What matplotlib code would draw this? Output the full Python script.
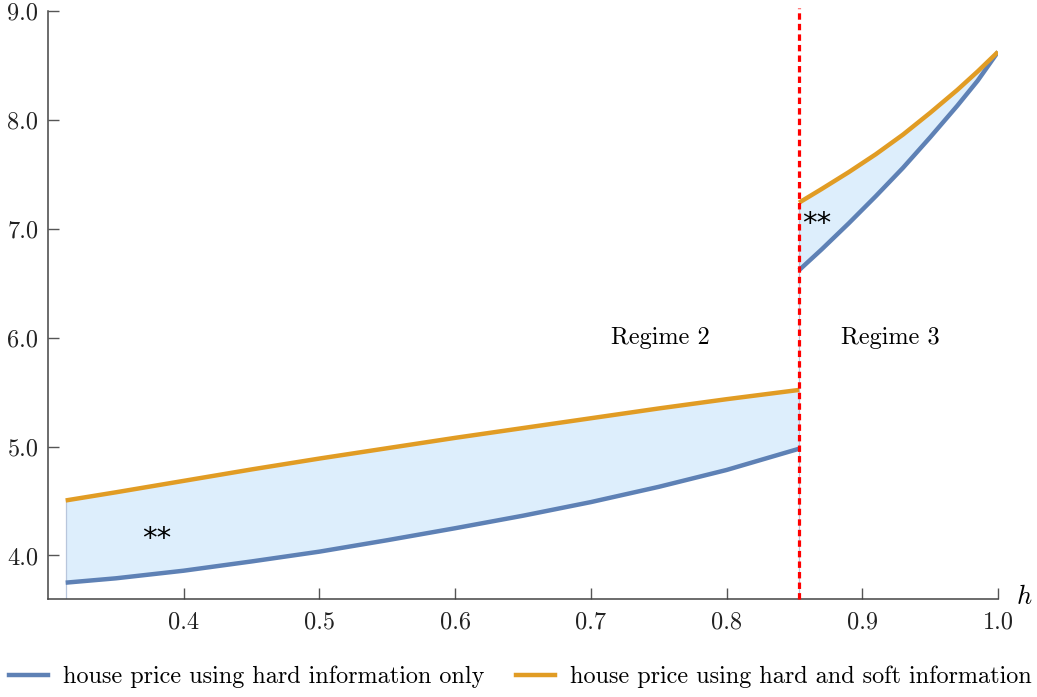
"""House price with hard vs. hard+soft information across regimes 2 and 3."""

import matplotlib

matplotlib.use("Agg")
import matplotlib.pyplot as plt
from matplotlib.lines import Line2D

plt.rcParams.update(
    {
        "font.family": "serif",
        "font.serif": ["cmr10", "DejaVu Serif"],
        "mathtext.fontset": "cm",
        "axes.formatter.use_mathtext": True,
        "axes.unicode_minus": False,
    }
)

# Regime 2 branch (h below the threshold)
h_regime2 = [0.313, 0.35, 0.40, 0.45, 0.50, 0.55, 0.60, 0.65, 0.70, 0.75, 0.80, 0.8534]
hard_regime2 = [3.75, 3.79, 3.86, 3.945, 4.035, 4.14, 4.25, 4.365, 4.49, 4.63, 4.785, 4.98]
soft_regime2 = [4.505, 4.58, 4.685, 4.79, 4.89, 4.985, 5.08, 5.17, 5.26, 5.35, 5.435, 5.52]

# Regime 3 branch (h above the threshold)
h_regime3 = [0.8534, 0.87, 0.89, 0.91, 0.93, 0.95, 0.97, 0.985, 1.0]
hard_regime3 = [6.62, 6.81, 7.05, 7.30, 7.56, 7.84, 8.13, 8.36, 8.625]
soft_regime3 = [7.24, 7.365, 7.52, 7.685, 7.865, 8.065, 8.275, 8.445, 8.625]

threshold = 0.8534
x_ticks = [0.4, 0.5, 0.6, 0.7, 0.8, 0.9, 1.0]
y_ticks = [4.0, 5.0, 6.0, 7.0, 8.0, 9.0]
labels = [
    "house price using hard information only",
    "house price using hard and soft information",
]

BLUE = "#5E81B5"
ORANGE = "#E19C24"
FILL = "#DDEEFC"
EDGE = "#B8C6DC"
FS = 17.5

fig = plt.figure(figsize=(10.37, 6.97), dpi=100)
ax = fig.add_axes([0.0463, 0.1406, 0.9161, 0.8436])

for h, lo, hi in [
    (h_regime2, hard_regime2, soft_regime2),
    (h_regime3, hard_regime3, soft_regime3),
]:
    ax.fill_between(h, lo, hi, color=FILL, lw=0, zorder=1)
    ax.plot(h, lo, color=BLUE, lw=3.2, solid_capstyle="butt", zorder=3)
    ax.plot(h, hi, color=ORANGE, lw=3.2, solid_capstyle="butt", zorder=3)

# thin boundary lines at the edges of the shaded regions
ax.plot([h_regime2[0]] * 2, [3.6, soft_regime2[0]], color=EDGE, lw=0.9, zorder=2)
ax.plot([threshold] * 2, [3.6, soft_regime3[0]], color=EDGE, lw=0.9, zorder=2)

ax.axvline(threshold, ymin=0, ymax=1.005, color="red", lw=2.3,
           dashes=(2.0, 1.3), zorder=4, clip_on=False)

ax.text(0.751, 6.0, "Regime 2", ha="center", va="center", fontsize=FS)
ax.text(0.9205, 6.0, "Regime 3", ha="center", va="center", fontsize=FS)
ax.text(0.380, 4.15, "**", ha="center", va="center", fontsize=21,
        family="DejaVu Sans")
ax.text(0.8665, 7.04, "**", ha="center", va="center", fontsize=21,
        family="DejaVu Sans")

ax.set_xlim(0.3, 1.0)
ax.set_ylim(3.6, 9.0)
ax.set_xticks(x_ticks)
ax.set_yticks(y_ticks)
ax.set_xticklabels([f"{v:.1f}" for v in x_ticks])
ax.set_yticklabels([f"{v:.1f}" for v in y_ticks])
ax.tick_params(direction="in", length=8, width=1.0, color="#555555",
               labelsize=FS, labelcolor="#222222")
ax.tick_params(axis="x", pad=9)
ax.tick_params(axis="y", pad=7)
for side in ("top", "right"):
    ax.spines[side].set_visible(False)
for side in ("left", "bottom"):
    ax.spines[side].set_color("#444444")
    ax.spines[side].set_linewidth(1.1)

fig.text(1024 / 1037, 1 - 597 / 697, "$h$", ha="center", va="center",
         fontsize=19)

handles = [Line2D([], [], color=BLUE, lw=3.2), Line2D([], [], color=ORANGE, lw=3.2)]
fig.legend(handles, labels, loc="center", bbox_to_anchor=(0.502, 1 - 677 / 697),
           ncol=2, frameon=False, fontsize=17.4, handlelength=1.6,
           handletextpad=0.65, columnspacing=1.3, borderaxespad=0)

fig.savefig("out.png", dpi=100)
